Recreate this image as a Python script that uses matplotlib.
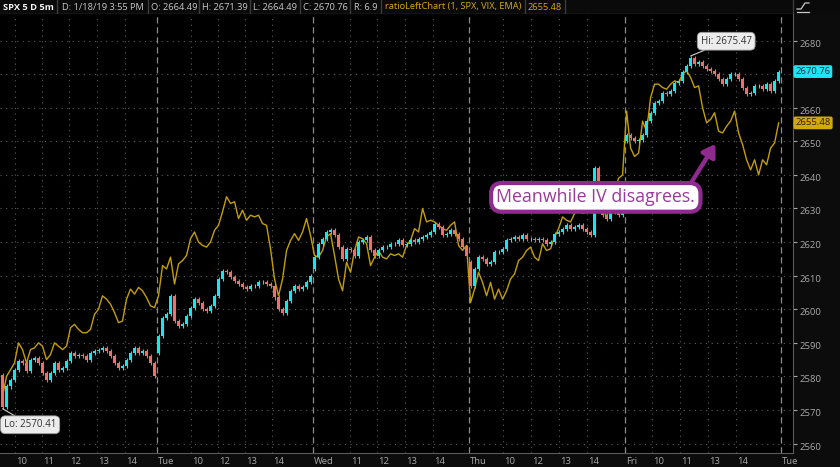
import numpy as np
import matplotlib.pyplot as plt
from matplotlib.transforms import ScaledTranslation, blended_transform_factory

mon_close = [2571, 2577, 2579, 2582, 2584.5, 2584, 2581.5, 2585, 2585.5, 2584, 2581, 2579, 2581,
             2584, 2582, 2582.5, 2584.5, 2587, 2586, 2586.5, 2586, 2585, 2587, 2587.5, 2588, 2588.5,
             2587.5, 2586, 2584, 2582.5, 2583, 2585, 2587, 2588.5, 2587, 2587.5, 2586, 2584, 2580]
tue_close = [2592, 2597.5, 2598.5, 2604, 2596.5, 2595, 2595.5, 2598, 2600.5, 2603, 2602, 2600, 2599.5,
             2601, 2604, 2609, 2611.5, 2611, 2609.5, 2608.5, 2607.5, 2606.5, 2606, 2607, 2607, 2608,
             2608, 2607.5, 2607, 2603.5, 2600, 2599, 2602.5, 2605.5, 2607, 2606, 2606.5, 2608, 2610]
wed_close = [2615.5, 2619.5, 2621, 2623, 2623.5, 2622, 2618.5, 2615, 2618, 2617.5, 2616, 2620, 2620.5,
             2621.5, 2617.5, 2616, 2617.5, 2618.5, 2618.5, 2619.5, 2619.5, 2620.5, 2619, 2619.5, 2620.5,
             2620, 2621, 2621.5, 2622, 2623, 2625.5, 2624.5, 2622, 2622.5, 2623.5, 2622.5, 2621, 2618.5, 2616]
thu_close = [2607, 2612, 2615.5, 2615, 2613.5, 2614, 2617, 2617, 2618, 2620.5, 2621, 2621.5, 2621,
             2622, 2621, 2621, 2620.5, 2621, 2620.5, 2619.5, 2620, 2622.5, 2623, 2624, 2625, 2624,
             2624.5, 2625, 2624, 2623, 2622, 2642, 2630, 2628, 2627, 2629, 2630, 2628, 2631]
fri_close = [2652, 2651, 2650, 2650.5, 2652, 2656, 2658.5, 2661.5, 2662, 2664.5, 2664, 2665, 2667.5,
             2668, 2670.5, 2672.5, 2674.8, 2673, 2673.5, 2672.5, 2671.5, 2671, 2670, 2668.5, 2667,
             2668.5, 2670, 2670, 2668.5, 2666, 2664, 2664.5, 2666.5, 2666.5, 2665.5, 2667, 2665, 2668, 2670.76]
day_open = [2580.5, 2587, 2612, 2614, 2650]

# ratioLeftChart (1, SPX, VIX, EMA), same sampling
mon_ratio = [2574, 2580, 2582, 2584, 2590, 2588, 2584, 2588, 2588.5, 2590, 2589, 2585, 2586.5,
             2590, 2589, 2588, 2589, 2594.5, 2595.5, 2594, 2593, 2593, 2594, 2598.5, 2600, 2604,
             2603, 2601.5, 2599, 2596, 2596.5, 2603, 2606, 2604.5, 2606.5, 2605.5, 2603.5, 2601, 2600.5]
tue_ratio = [2604, 2613, 2612, 2615.5, 2607.5, 2613.5, 2614.5, 2616, 2621, 2623, 2620, 2619, 2618.5,
             2620, 2623.5, 2625, 2629, 2633.5, 2631.5, 2632, 2627, 2629.5, 2626.5, 2628, 2627.5, 2628,
             2625.5, 2625, 2618, 2609, 2604, 2609, 2617.5, 2620.5, 2622.5, 2620.5, 2623, 2627, 2622]
wed_ratio = [2616, 2615.5, 2617.5, 2621.5, 2622.5, 2616, 2609, 2605.5, 2614, 2611, 2617.5, 2621.5, 2621,
             2619.5, 2613, 2615.5, 2617.5, 2615.5, 2615, 2616.5, 2616, 2616.5, 2615.5, 2619, 2620.5,
             2624, 2623, 2630, 2626, 2626.5, 2626, 2625, 2624, 2623.5, 2625, 2626, 2619, 2617.5, 2619]
thu_ratio = [2602, 2606, 2611, 2608, 2604, 2608, 2603, 2606, 2603, 2605.5, 2609, 2610.5, 2614.5,
             2615.5, 2617.5, 2618.5, 2615.5, 2614.5, 2619.5, 2617.5, 2618, 2621.5, 2624, 2627.5, 2626.5,
             2626, 2628.5, 2629.5, 2628.5, 2629, 2632, 2639, 2635, 2631, 2627, 2633, 2635.5, 2639, 2640]
fri_ratio = [2659, 2648, 2645.5, 2646.5, 2656, 2653, 2663, 2667, 2667, 2666, 2665.5, 2667, 2668,
             2667.5, 2670, 2671, 2669, 2666, 2666.5, 2660, 2655.5, 2656.5, 2658.5, 2653, 2652.5, 2654.5,
             2656, 2659, 2652.5, 2649, 2644.5, 2641.5, 2644.5, 2640, 2644.5, 2643, 2648, 2649.5, 2655.48]

price_ticks = list(range(2560, 2690, 10))
hour_ticks = [3.1, 9.9, 16.6, 23.6, 30.6,
              47.1, 53.9, 60.6, 67.4,
              86.9, 93.6, 100.6, 107.6,
              125.1, 132.1, 139.1, 146.1,
              162.4, 169.4, 176.4, 183.4]
hour_labels = ['10', '11', '12', '13', '14',
               '10', '12', '13', '14',
               '11', '12', '13', '14',
               '10', '12', '13', '14',
               '10', '11', '13', '14']
day_labels = ['Tue', 'Wed', 'Thu', 'Fri', 'Tue']

header = [('SPX 5 D 5m', 3, 57), ('D: 1/18/19 3:55 PM', 62, 148), ('O: 2664.49', 151, 199),
          ('H: 2671.39', 202, 250), ('L: 2664.49', 253, 300), ('C: 2670.76', 303, 350),
          ('R: 6.9', 354, 381), ('ratioLeftChart (1, SPX, VIX, EMA)', 385, 525), ('2655.48', 528, 565)]

UP = '#13e8f2'
DOWN = '#f07068'
GOLD = '#c49e0a'
PURPLE = '#8f2b8f'
plt.rcParams['font.family'] = ['Open Sans', 'DejaVu Sans']

days = [mon_close, tue_close, wed_close, thu_close, fri_close]
close = np.array(sum(days, []))
opens = []
for d, vals in enumerate(days):
    opens += [day_open[d]] + vals[:-1]
opens = np.array(opens)
ratio = np.array(mon_ratio + tue_ratio + wed_ratio + thu_ratio + fri_ratio)
x = np.arange(len(close))
per_day = len(mon_close)

fig = plt.figure(figsize=(8.4, 4.67), dpi=100, facecolor='#0c0c0c')
ax = fig.add_axes([0, 14 / 467, 793 / 840, 439 / 467])
ax.set_facecolor('black')

ax.set_xlim(-0.625, 197.6)
ax.set_ylim(2557.2, 2687.9)

# grid
for p in price_ticks:
    ax.axhline(p, color='#5c5c5c', lw=0.8, ls=(0, (1, 4)), zorder=1)
for t in hour_ticks:
    ax.axvline(t, color='#5c5c5c', lw=0.8, ls=(0, (1, 4)), zorder=1)
seps = [per_day * (d + 1) - 0.5 for d in range(len(day_labels))]
for s in seps:
    ax.axvline(s, color='#8c8c8c', lw=0.9, ls=(0, (5, 3)), zorder=1)

# ratio line and candles
ax.plot(x, ratio, color=GOLD, lw=1.0, zorder=2)
colors = np.where(close >= opens, UP, DOWN)
ax.vlines(x, np.minimum(opens, close) - 0.6, np.maximum(opens, close) + 0.6, colors=colors, lw=0.8, zorder=3)
ax.bar(x, close - opens, bottom=opens, width=0.7, color=colors, zorder=3)

# axes styling
ax.yaxis.tick_right()
ax.set_yticks(price_ticks)
# the 2670 label sits under the last-price badge
ax.set_yticklabels(['' if p == 2670 else str(p) for p in price_ticks])
ax.tick_params(axis='y', colors='#a8a8a8', labelsize=6.8, length=3, width=0.8, pad=2)
off = ScaledTranslation(0, -2.5 / 100, fig.dpi_scale_trans)
for lbl in ax.get_yticklabels():
    lbl.set_transform(lbl.get_transform() + off)
ax.set_xticks([])
for side in ['top', 'left']:
    ax.spines[side].set_visible(False)
ax.spines['right'].set_color('#5a5a5a')
ax.spines['bottom'].set_color('#5a5a5a')

tr = blended_transform_factory(ax.transData, ax.transAxes)
for t, lab in zip(hour_ticks, hour_labels):
    ax.text(t + 0.3, -0.008, lab, transform=tr, ha='left', va='top', color='#a8a8a8', fontsize=6.8, clip_on=False)
for s, lab in zip(seps, day_labels):
    ax.text(s + 0.3, -0.008, lab, transform=tr, ha='left', va='top', color='#a8a8a8', fontsize=6.8, clip_on=False)

# last value badges on the price axis
tr2 = blended_transform_factory(ax.transAxes, ax.transData)
ax.text(1.003, close[-1], f'{close[-1]:.2f}', transform=tr2, ha='left', va='center', fontsize=6.8,
        color='#0a2a40', zorder=6, clip_on=False,
        bbox=dict(boxstyle='round,pad=0.2,rounding_size=0.2', fc='#1de6f4', ec='none'))
ax.text(1.003, ratio[-1], f'{ratio[-1]:.2f}', transform=tr2, ha='left', va='center', fontsize=6.8,
        color='#2a2000', zorder=6, clip_on=False,
        bbox=dict(boxstyle='round,pad=0.2,rounding_size=0.2', fc='#d2a90a', ec='none'))

# Lo / Hi bubbles
lo_i = int(np.argmin(np.minimum(opens, close)))
hi_i = int(np.argmax(np.maximum(opens, close)))
bubble = dict(boxstyle='round,pad=0.35,rounding_size=0.5', fc='#ececec', ec='#9a9a9a', lw=0.6)
ax.annotate('Lo: 2570.41', xy=(lo_i, min(opens[lo_i], close[lo_i]) - 0.6), xytext=(6.9, 2565.6),
            ha='center', va='center', fontsize=7, color='#333333', bbox=bubble, zorder=6,
            arrowprops=dict(arrowstyle='-', color='#cccccc', lw=0.8, shrinkA=0, shrinkB=0))
ax.annotate('Hi: 2675.47', xy=(hi_i, max(opens[hi_i], close[hi_i]) + 0.6), xytext=(180.9, 2679.8),
            ha='center', va='center', fontsize=7, color='#333333', bbox=bubble, zorder=6,
            arrowprops=dict(arrowstyle='-', color='#cccccc', lw=0.8, shrinkA=0, shrinkB=0))

# callout
ax.annotate('', xy=(178.2, 2649.2), xytext=(171.8, 2637.0),
            arrowprops=dict(arrowstyle='-|>,head_length=0.7,head_width=0.45', color=PURPLE, lw=3.2,
                            shrinkA=0, shrinkB=0), zorder=7)
ax.text(148.3, 2633.3, 'Meanwhile IV disagrees.', ha='center', va='center', fontsize=12.8, color='#9a3a9a',
        zorder=8, bbox=dict(boxstyle='round,pad=0.3,rounding_size=0.6', fc='white', ec=PURPLE, lw=3))

# header strip
hdr = fig.add_axes([0, 1 - 14 / 467, 1, 14 / 467])
hdr.set_xlim(0, 840)
hdr.set_ylim(14, 0)
hdr.set_facecolor('#0a0a0a')
hdr.set_xticks([])
hdr.set_yticks([])
for sp in hdr.spines.values():
    sp.set_visible(False)
hdr.axhline(13.6, xmin=0, xmax=793 / 840, color='#3c3c3c', lw=1)
hdr.axvline(793, color='#3c3c3c', lw=1)
for i, (txt, x0, x1) in enumerate(header):
    if i == 0:
        col, wt = '#f2f2f2', 'bold'
    elif i >= 7:
        col, wt = '#d8aa10', 'normal'
    else:
        col, wt = '#c8c8c8', 'normal'
    hdr.text(x0, 7, txt, ha='left', va='center', fontsize=6.7, color=col, fontweight=wt)
    hdr.plot([x1, x1], [0, 14], color='#3c3c3c', lw=1)
hdr.plot([797, 801, 805, 809], [9, 9, 3, 3], color='#c8c8c8', lw=0.9)
hdr.plot([797, 809], [12, 12], color='#c8c8c8', lw=0.9)

fig.savefig('out.png', dpi=100, facecolor=fig.get_facecolor())
